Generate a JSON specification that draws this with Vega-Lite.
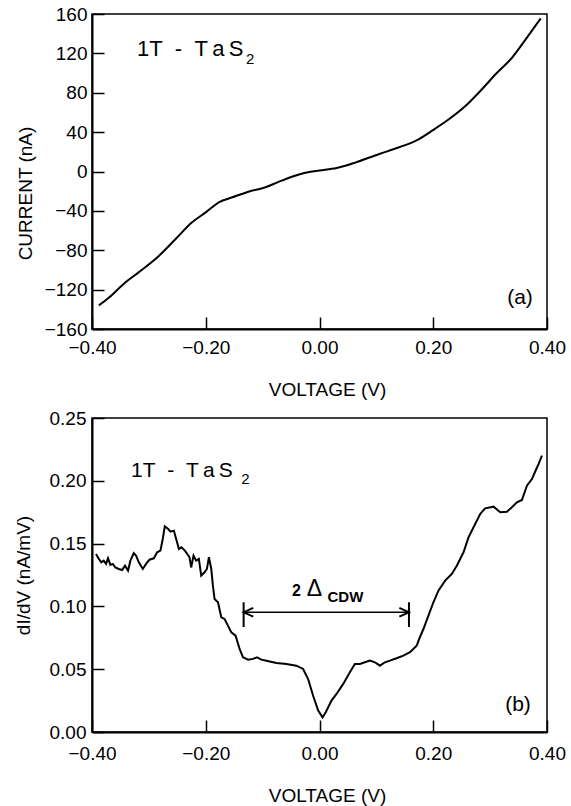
{
  "$schema": "https://vega.github.io/schema/vega-lite/v6.json",
  "padding": {"left": 13, "top": 4, "right": 0, "bottom": 0},
  "background": "white",
  "spacing": 89,
  "bounds": "flush",
  "config": {
    "view": {"stroke": "black", "strokeWidth": 1.5},
    "axis": {
      "domainColor": "black", "domainWidth": 2,
      "tickColor": "black", "tickWidth": 1.5, "tickSize": -12, "tickCount": 20,
      "labelFont": "Liberation Sans", "labelFontSize": 19, "labelColor": "black",
      "titleFont": "Liberation Sans", "titleFontSize": 19, "titleFontWeight": "normal", "titleColor": "black",
      "grid": false, "labelFlush": false, "labelOverlap": false
    }
  },
  "vconcat": [
    {
      "width": 455,
      "height": 315,
      "layer": [
        {
          "data": {"values": [
            {"V": -0.388, "I": -136}, {"V": -0.370, "I": -128}, {"V": -0.344, "I": -114},
            {"V": -0.317, "I": -102}, {"V": -0.282, "I": -85.5}, {"V": -0.253, "I": -68.6},
            {"V": -0.224, "I": -51.6}, {"V": -0.200, "I": -41.5}, {"V": -0.177, "I": -31.3},
            {"V": -0.153, "I": -26.2}, {"V": -0.125, "I": -20.5}, {"V": -0.095, "I": -16},
            {"V": -0.071, "I": -10.3}, {"V": -0.036, "I": -3}, {"V": -0.018, "I": -0.5},
            {"V": 0.0, "I": 1}, {"V": 0.03, "I": 3.5}, {"V": 0.064, "I": 9.3},
            {"V": 0.105, "I": 17.8}, {"V": 0.140, "I": 24.6}, {"V": 0.175, "I": 33},
            {"V": 0.198, "I": 41.5}, {"V": 0.228, "I": 53.3}, {"V": 0.257, "I": 66.8},
            {"V": 0.286, "I": 83.8}, {"V": 0.310, "I": 99}, {"V": 0.339, "I": 116},
            {"V": 0.365, "I": 136.3}, {"V": 0.389, "I": 155.6}
          ]},
          "mark": {"type": "line", "color": "black", "strokeWidth": 2, "interpolate": "monotone"},
          "encoding": {
            "x": {"field": "V", "type": "quantitative",
              "scale": {"domain": [-0.4, 0.4], "nice": false, "zero": false},
              "axis": {"title": "VOLTAGE (V)", "values": [-0.4, -0.2, 0, 0.2, 0.4], "format": ".2f",
                "labelPadding": 21, "titleX": 235, "titleY": 66, "titleBaseline": "alphabetic"}},
            "y": {"field": "I", "type": "quantitative",
              "scale": {"domain": [-160, 160], "nice": false},
              "axis": {"title": "CURRENT (nA)", "values": [-160, -120, -80, -40, 0, 40, 80, 120, 160],
                "labelPadding": 17, "titleX": -61, "titleY": 179, "titleBaseline": "alphabetic"}}
          }
        },
        {
          "data": {"values": [{"V": -0.321, "I": 117, "label": "1T\u00a0\u00a0-\u00a0\u00a0T\u2009a\u2009S"}]},
          "mark": {"type": "text", "align": "left", "baseline": "alphabetic", "font": "Liberation Sans", "fontSize": 22, "color": "black"},
          "encoding": {"x": {"field": "V", "type": "quantitative"}, "y": {"field": "I", "type": "quantitative"}, "text": {"field": "label"}}
        },
        {
          "data": {"values": [{"V": -0.1292, "I": 109.2, "label": "2"}]},
          "mark": {"type": "text", "align": "left", "baseline": "alphabetic", "font": "Liberation Sans", "fontSize": 15, "color": "black"},
          "encoding": {"x": {"field": "V", "type": "quantitative"}, "y": {"field": "I", "type": "quantitative"}, "text": {"field": "label"}}
        },
        {
          "data": {"values": [{"V": 0.3525, "I": -128.5, "label": "(a)"}]},
          "mark": {"type": "text", "align": "center", "baseline": "middle", "font": "Liberation Sans", "fontSize": 21, "color": "black"},
          "encoding": {"x": {"field": "V", "type": "quantitative"}, "y": {"field": "I", "type": "quantitative"}, "text": {"field": "label"}}
        }
      ]
    },
    {
      "width": 455,
      "height": 314,
      "layer": [
        {
          "data": {"values": [
            {"V": -0.393, "G": 0.1417}, {"V": -0.388, "G": 0.1378}, {"V": -0.3836, "G": 0.1351},
            {"V": -0.3794, "G": 0.1364}, {"V": -0.3753, "G": 0.1338}, {"V": -0.3718, "G": 0.1383},
            {"V": -0.3677, "G": 0.133}, {"V": -0.3635, "G": 0.1338}, {"V": -0.359, "G": 0.1311},
            {"V": -0.353, "G": 0.1298}, {"V": -0.347, "G": 0.129}, {"V": -0.342, "G": 0.1324},
            {"V": -0.3366, "G": 0.1285}, {"V": -0.3325, "G": 0.1364}, {"V": -0.3265, "G": 0.1425},
            {"V": -0.3225, "G": 0.1404}, {"V": -0.3177, "G": 0.1351}, {"V": -0.3107, "G": 0.1298},
            {"V": -0.3049, "G": 0.1338}, {"V": -0.299, "G": 0.1372}, {"V": -0.2913, "G": 0.1383},
            {"V": -0.2855, "G": 0.1431}, {"V": -0.2797, "G": 0.1444}, {"V": -0.2756, "G": 0.1537},
            {"V": -0.272, "G": 0.1638}, {"V": -0.266, "G": 0.1616}, {"V": -0.262, "G": 0.1595},
            {"V": -0.256, "G": 0.1603}, {"V": -0.252, "G": 0.1537}, {"V": -0.2472, "G": 0.1457},
            {"V": -0.2426, "G": 0.147}, {"V": -0.2367, "G": 0.1444}, {"V": -0.2285, "G": 0.1391},
            {"V": -0.2256, "G": 0.131}, {"V": -0.2215, "G": 0.1404}, {"V": -0.2168, "G": 0.1364},
            {"V": -0.2121, "G": 0.1378}, {"V": -0.208, "G": 0.1245}, {"V": -0.2021, "G": 0.1272},
            {"V": -0.198, "G": 0.1298}, {"V": -0.1944, "G": 0.1391}, {"V": -0.1903, "G": 0.1298},
            {"V": -0.1874, "G": 0.1165}, {"V": -0.1845, "G": 0.1059}, {"V": -0.1785, "G": 0.1033},
            {"V": -0.1727, "G": 0.0913}, {"V": -0.1669, "G": 0.09}, {"V": -0.161, "G": 0.0847},
            {"V": -0.1551, "G": 0.0794}, {"V": -0.1475, "G": 0.0767}, {"V": -0.1405, "G": 0.0661},
            {"V": -0.1345, "G": 0.0595}, {"V": -0.1257, "G": 0.0576}, {"V": -0.1168, "G": 0.0582},
            {"V": -0.1098, "G": 0.0595}, {"V": -0.1022, "G": 0.0576}, {"V": -0.0934, "G": 0.0568},
            {"V": -0.0758, "G": 0.055}, {"V": -0.0582, "G": 0.0542}, {"V": -0.0406, "G": 0.0528},
            {"V": -0.0288, "G": 0.0502}, {"V": -0.02, "G": 0.0422}, {"V": -0.0112, "G": 0.0289},
            {"V": -0.0023, "G": 0.017}, {"V": 0.0053, "G": 0.0117}, {"V": 0.011, "G": 0.0157},
            {"V": 0.0211, "G": 0.025}, {"V": 0.0299, "G": 0.0303}, {"V": 0.0417, "G": 0.0383},
            {"V": 0.0534, "G": 0.0476}, {"V": 0.0622, "G": 0.0542}, {"V": 0.071, "G": 0.0542},
            {"V": 0.0798, "G": 0.0555}, {"V": 0.0886, "G": 0.0568}, {"V": 0.0974, "G": 0.0555},
            {"V": 0.1062, "G": 0.0528}, {"V": 0.115, "G": 0.0555}, {"V": 0.1238, "G": 0.0568},
            {"V": 0.1356, "G": 0.0587}, {"V": 0.1474, "G": 0.0608}, {"V": 0.1591, "G": 0.0635},
            {"V": 0.1709, "G": 0.0687}, {"V": 0.1757, "G": 0.0746}, {"V": 0.1827, "G": 0.082},
            {"V": 0.1915, "G": 0.0926}, {"V": 0.2003, "G": 0.1033}, {"V": 0.2091, "G": 0.1125},
            {"V": 0.2209, "G": 0.1205}, {"V": 0.2326, "G": 0.1258}, {"V": 0.2414, "G": 0.1324},
            {"V": 0.2532, "G": 0.1431}, {"V": 0.262, "G": 0.155}, {"V": 0.2708, "G": 0.163},
            {"V": 0.2825, "G": 0.1736}, {"V": 0.2913, "G": 0.1781}, {"V": 0.3061, "G": 0.1794},
            {"V": 0.3178, "G": 0.1749}, {"V": 0.3295, "G": 0.1754}, {"V": 0.3383, "G": 0.1789},
            {"V": 0.3471, "G": 0.1829}, {"V": 0.3559, "G": 0.1847}, {"V": 0.3647, "G": 0.1961},
            {"V": 0.3735, "G": 0.2014}, {"V": 0.3812, "G": 0.2094}, {"V": 0.3853, "G": 0.2134},
            {"V": 0.3911, "G": 0.22}
          ]},
          "mark": {"type": "line", "color": "black", "strokeWidth": 2},
          "encoding": {
            "x": {"field": "V", "type": "quantitative",
              "scale": {"domain": [-0.4, 0.4], "nice": false, "zero": false},
              "axis": {"title": "VOLTAGE (V)", "values": [-0.4, -0.2, 0, 0.2, 0.4], "format": ".2f",
                "labelPadding": 24, "titleX": 235, "titleY": 69, "titleBaseline": "alphabetic"}},
            "y": {"field": "G", "type": "quantitative",
              "scale": {"domain": [0, 0.25], "nice": false},
              "axis": {"title": "dI/dV (nA/mV)", "values": [0, 0.05, 0.1, 0.15, 0.2, 0.25], "format": ".2f",
                "labelPadding": 18, "titleX": -63, "titleBaseline": "alphabetic"}}
          }
        },
        {
          "data": {"values": [{"V": -0.1334, "V2": 0.1573, "G": 0.0953}]},
          "mark": {"type": "rule", "color": "black", "strokeWidth": 1.5},
          "encoding": {"x": {"field": "V", "type": "quantitative"}, "x2": {"field": "V2"}, "y": {"field": "G", "type": "quantitative"}}
        },
        {
          "data": {"values": [{"V": -0.1334, "G": 0.0836, "G2": 0.1033}, {"V": 0.1573, "G": 0.0836, "G2": 0.1033}]},
          "mark": {"type": "rule", "color": "black", "strokeWidth": 2},
          "encoding": {"x": {"field": "V", "type": "quantitative"}, "y": {"field": "G", "type": "quantitative"}, "y2": {"field": "G2"}}
        },
        {
          "data": {"values": [{"V": -0.1334, "G": 0.0953}]},
          "mark": {"type": "point", "shape": "M1.2,-0.55L0,0L1.2,0.55", "size": 256, "filled": false, "stroke": "black", "strokeWidth": 2, "opacity": 1},
          "encoding": {"x": {"field": "V", "type": "quantitative"}, "y": {"field": "G", "type": "quantitative"}}
        },
        {
          "data": {"values": [{"V": 0.1573, "G": 0.0953}]},
          "mark": {"type": "point", "shape": "M-1.2,-0.55L0,0L-1.2,0.55", "size": 256, "filled": false, "stroke": "black", "strokeWidth": 2, "opacity": 1},
          "encoding": {"x": {"field": "V", "type": "quantitative"}, "y": {"field": "G", "type": "quantitative"}}
        },
        {
          "data": {"values": [{"V": -0.0405, "G": 0.1083, "label": "2"}]},
          "mark": {"type": "text", "align": "center", "baseline": "alphabetic", "font": "Liberation Sans", "fontSize": 16, "fontWeight": "bold", "color": "black"},
          "encoding": {"x": {"field": "V", "type": "quantitative"}, "y": {"field": "G", "type": "quantitative"}, "text": {"field": "label"}}
        },
        {
          "data": {"values": [{"V": -0.0088, "G": 0.1083, "label": "Δ"}]},
          "mark": {"type": "text", "align": "center", "baseline": "alphabetic", "font": "Liberation Sans", "fontSize": 23, "color": "black"},
          "encoding": {"x": {"field": "V", "type": "quantitative"}, "y": {"field": "G", "type": "quantitative"}, "text": {"field": "label"}}
        },
        {
          "data": {"values": [{"V": 0.014, "G": 0.1035, "label": "CDW"}]},
          "mark": {"type": "text", "align": "left", "baseline": "alphabetic", "font": "Liberation Sans", "fontSize": 15, "fontWeight": "bold", "color": "black"},
          "encoding": {"x": {"field": "V", "type": "quantitative"}, "y": {"field": "G", "type": "quantitative"}, "text": {"field": "label"}}
        },
        {
          "data": {"values": [{"V": -0.3313, "G": 0.2028, "label": "1T\u00a0\u00a0-\u00a0\u00a0T\u2009a\u2009S"}]},
          "mark": {"type": "text", "align": "left", "baseline": "alphabetic", "font": "Liberation Sans", "fontSize": 21, "color": "black"},
          "encoding": {"x": {"field": "V", "type": "quantitative"}, "y": {"field": "G", "type": "quantitative"}, "text": {"field": "label"}}
        },
        {
          "data": {"values": [{"V": -0.1375, "G": 0.1975, "label": "2"}]},
          "mark": {"type": "text", "align": "left", "baseline": "alphabetic", "font": "Liberation Sans", "fontSize": 15, "color": "black"},
          "encoding": {"x": {"field": "V", "type": "quantitative"}, "y": {"field": "G", "type": "quantitative"}, "text": {"field": "label"}}
        },
        {
          "data": {"values": [{"V": 0.349, "G": 0.0215, "label": "(b)"}]},
          "mark": {"type": "text", "align": "center", "baseline": "middle", "font": "Liberation Sans", "fontSize": 21, "color": "black"},
          "encoding": {"x": {"field": "V", "type": "quantitative"}, "y": {"field": "G", "type": "quantitative"}, "text": {"field": "label"}}
        }
      ]
    }
  ]
}
